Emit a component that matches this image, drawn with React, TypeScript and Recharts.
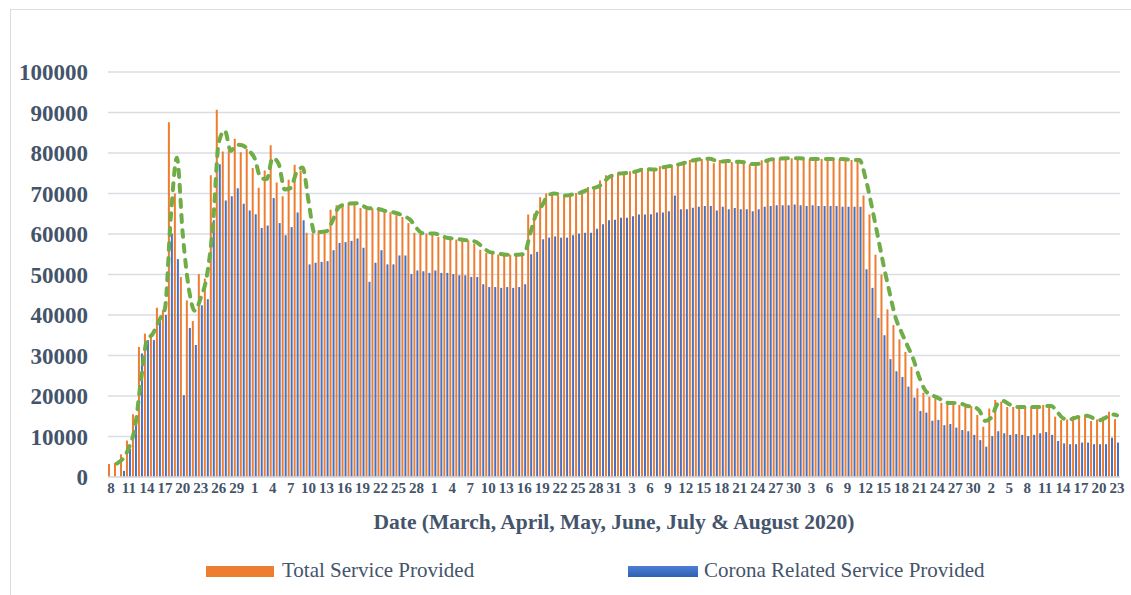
import { ComposedChart, Bar, Line, XAxis, YAxis, CartesianGrid } from 'recharts';

// day-of-month spans, 8 March .. 23 August 2020
const MONTH_SPANS: [number, number][] = [[8, 31], [1, 30], [1, 31], [1, 30], [1, 31], [1, 23]];
const DAYS: number[] = MONTH_SPANS.flatMap(([a, b]) => Array.from({ length: b - a + 1 }, (_, i) => a + i));

const TOTAL_SERVICE = [
  3200, 3500, 5600, 9000, 15500, 32100, 35400, 35400, 41800, 41200,
  87600, 70000, 49400, 43600, 38500, 50100, 49000, 74500, 90700, 80400,
  80600, 83500, 80200, 81000, 76300, 71400, 75700, 81900, 72700, 69300,
  73400, 77100, 75700, 60300, 60100, 60900, 60500, 66000, 67100, 67500,
  67600, 67600, 66400, 66300, 66300, 65800, 65400, 65400, 64600, 64200,
  62700, 60300, 60100, 60100, 60100, 59300, 58900, 58900, 58600, 58400,
  58400, 57600, 56100, 55300, 55300, 54900, 54900, 54900, 54900, 55300,
  64800, 65000, 69100, 70000, 70000, 69500, 69500, 70000, 70100, 70900,
  71600, 71400, 73200, 74500, 74700, 75200, 74900, 75500, 75700, 76300,
  75700, 76100, 76700, 76700, 77100, 77400, 77900, 78300, 78500, 78500,
  78700, 77500, 78300, 77800, 77800, 77900, 77400, 77200, 77400, 78200,
  78500, 78600, 78700, 78700, 78700, 78700, 78500, 78500, 78500, 78500,
  78500, 78500, 78500, 78300, 78300, 78200, 69500, 64800, 54900, 50000,
  41400, 37500, 34000, 30900, 27200, 21900, 20800, 19800, 19400, 18300,
  18200, 18400, 17800, 17300, 17500, 15300, 12400, 16900, 19000, 18600,
  17300, 17300, 17300, 17300, 17300, 17300, 17800, 17300, 14900, 14100,
  14200, 15000, 15000, 15300, 13800, 14200, 14900, 16100, 14300,
];

const CORONA_SERVICE = [
  0, 0, 1500, 7000, 13600, 30500, 33800, 33800, 39700, 40000,
  60100, 53800, 20200, 36800, 32600, 42400, 43900, 63400, 77200, 68300,
  69300, 71300, 67500, 65800, 64900, 61500, 62100, 68900, 62700, 59700,
  61700, 65300, 63400, 52500, 52900, 53100, 53300, 56000, 57800, 58000,
  58300, 58900, 56600, 48200, 52900, 56000, 52500, 52500, 54700, 54700,
  50100, 51000, 50800, 50400, 51000, 50400, 50400, 50100, 49800, 49800,
  49400, 49400, 47600, 46900, 46900, 46700, 46900, 46700, 46900, 47600,
  55000, 55600, 58700, 59100, 59400, 59100, 59100, 59700, 60100, 60300,
  60300, 61300, 62400, 63400, 63500, 64000, 64000, 64400, 64800, 64800,
  64900, 65300, 65300, 65600, 69500, 66100, 66100, 66500, 66700, 66900,
  66900, 65800, 66700, 66100, 66400, 66100, 66100, 65600, 66100, 66700,
  66900, 67100, 67100, 67100, 67300, 67100, 66900, 67100, 66900, 66900,
  66900, 66900, 66700, 66700, 66700, 66700, 51300, 46700, 39300, 35000,
  29100, 26100, 24700, 22300, 19600, 16300, 15900, 13900, 14100, 12800,
  13100, 12200, 11600, 11300, 10400, 9100, 7500, 10100, 11300, 10800,
  10400, 10600, 10400, 10100, 10400, 10800, 11100, 10400, 8900, 8300,
  8100, 8100, 8500, 8500, 8100, 8100, 8100, 9700, 8500,
];

// dashed green trend line
const TREND = [
  null, 3350, 4550, 7300, 12250, 23800, 33750, 35400, 38600, 41500,
  64400, 78800, 59700, 46500, 41050, 44300, 49550, 61750, 82600, 85550,
  80500, 82050, 81850, 80600, 78650, 73850, 73550, 78800, 77300, 71000,
  71350, 75250, 76400, 68000, 60200, 60500, 60700, 63250, 66550, 67300,
  67550, 67600, 67000, 66350, 66300, 66050, 65600, 65400, 65000, 64400,
  63450, 61500, 60200, 60100, 60100, 59700, 59100, 58900, 58750, 58500,
  58400, 58000, 56850, 55700, 55300, 55100, 54900, 54900, 54900, 55100,
  60050, 64900, 67050, 69550, 70000, 69750, 69500, 69750, 70050, 70500,
  71250, 71500, 72300, 73850, 74600, 74950, 75050, 75200, 75600, 76000,
  76000, 75900, 76400, 76700, 76900, 77250, 77650, 78100, 78400, 78500,
  78600, 78100, 77900, 78050, 77800, 77850, 77650, 77300, 77300, 77800,
  78350, 78550, 78650, 78700, 78700, 78700, 78600, 78500, 78500, 78500,
  78500, 78500, 78500, 78400, 78300, 78250, 73850, 67150, 59850, 52450,
  45700, 39450, 35750, 32450, 29050, 24550, 21350, 20300, 19600, 18850,
  18250, 18300, 18100, 17550, 17400, 16400, 13850, 14650, 17950, 18800,
  17950, 17300, 17300, 17300, 17300, 17300, 17550, 17550, 16100, 14500,
  14150, 14600, 15000, 15150, 14550, 14000, 14550, 15500, 15200,
];

const Y_TICKS = [0, 10000, 20000, 30000, 40000, 50000, 60000, 70000, 80000, 90000, 100000];

const data = DAYS.map((day, i) => ({
  day,
  total: TOTAL_SERVICE[i],
  corona: CORONA_SERVICE[i],
  trend: TREND[i],
}));

const FONT = '"Liberation Serif", "Times New Roman", serif';
const INK = '#44546A';
const ORANGE = '#ED7D31';
const BLUE = '#4472C4';

export default function App() {
  return (
    <div style={{ position: 'absolute', left: 0, top: 0, width: 1131, height: 595, background: '#fff', overflow: 'hidden', fontFamily: FONT }}>
      <div style={{ position: 'absolute', left: 10, top: 9, width: 1140, height: 640, border: '1.5px solid #D9DDE3' }} />
      <ComposedChart
        width={1131}
        height={595}
        data={data}
        margin={{ top: 72, right: 11, left: 0, bottom: 58 }}
        barSize={2}
        barGap={1}
        style={{ position: 'absolute', left: 0, top: 0 }}
      >
        <CartesianGrid vertical={false} stroke="#D9DDE3" strokeWidth={1.3} />
        <XAxis
          dataKey="day"
          interval={2}
          tickLine={false}
          tickSize={0}
          tickMargin={5}
          axisLine={{ stroke: '#D9DDE3', strokeWidth: 1.3 }}
          height={60}
          tick={{ fontSize: 15, fontWeight: 'bold', fill: INK, fontFamily: FONT }}
          label={{
            value: 'Date (March, April, May, June, July & August 2020)',
            position: 'insideBottom',
            offset: 8,
            style: { fontSize: 21.5, fontWeight: 'bold', fill: INK, fontFamily: FONT },
          }}
        />
        <YAxis
          width={108}
          domain={[0, 100000]}
          ticks={Y_TICKS}
          axisLine={false}
          tickLine={false}
          tickSize={0}
          tickMargin={20}
          tick={{ fontSize: 23, fontWeight: 'bold', fill: INK, fontFamily: FONT }}
        />
        <Bar dataKey="total" fill={ORANGE} isAnimationActive={false} />
        <Bar dataKey="corona" fill={BLUE} isAnimationActive={false} />
        <Line
          dataKey="trend"
          type="monotone"
          stroke="#70AD47"
          strokeWidth={4}
          strokeDasharray="7 8"
          strokeLinecap="round"
          dot={false}
          activeDot={false}
          connectNulls
          isAnimationActive={false}
        />
      </ComposedChart>
      {/* legend */}
      <div style={{ position: 'absolute', left: 206, top: 566, width: 68, height: 11, background: ORANGE }} />
      <span style={{ position: 'absolute', left: 282, top: 560, fontSize: 21, lineHeight: '21px', color: INK, whiteSpace: 'nowrap' }}>
        Total Service Provided
      </span>
      <div style={{ position: 'absolute', left: 628, top: 566, width: 70, height: 11, background: 'linear-gradient(#4F7FD4, #2F5FB5)' }} />
      <span style={{ position: 'absolute', left: 704, top: 560, fontSize: 21, lineHeight: '21px', color: INK, whiteSpace: 'nowrap' }}>
        Corona Related Service Provided
      </span>
    </div>
  );
}
